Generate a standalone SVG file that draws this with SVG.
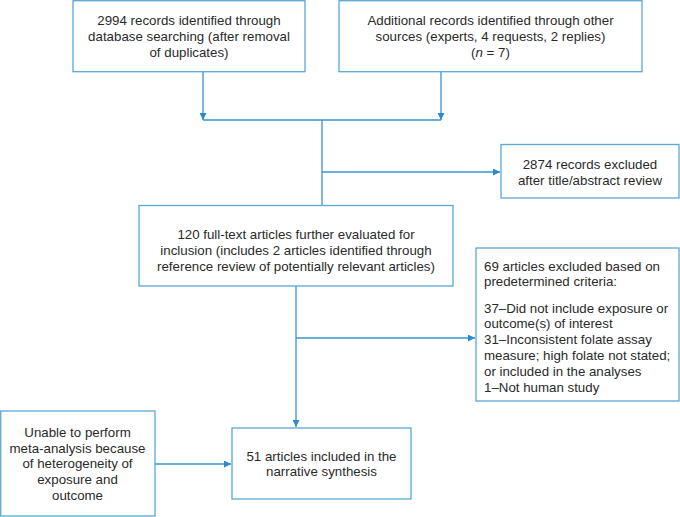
<svg xmlns="http://www.w3.org/2000/svg" width="680" height="517" viewBox="0 0 680 517">
<defs>
<style>
.box{fill:#fff;stroke:#5aa8d8;stroke-width:1.3}
.ln{fill:none;stroke:#3a93cf;stroke-width:1.3}
text{font-family:"Liberation Sans",Arial,sans-serif;font-size:13.3px;fill:#2a2a2a}
.c{text-anchor:middle}
</style>
<marker id="ah" viewBox="0 0 10 10" refX="10" refY="5" markerWidth="7" markerHeight="7" markerUnits="userSpaceOnUse" orient="auto">
<path d="M0,0 L10,5 L0,10 z" fill="#2a8acb"/>
</marker>
</defs>
<rect width="680" height="517" fill="#fff"/>
<g id="connectors">
<path class="ln" d="M203,72 V120" marker-end="url(#ah)"/>
<path class="ln" d="M441,72 V120" marker-end="url(#ah)"/>
<path class="ln" d="M203,120 H441"/>
<path class="ln" d="M322,120 V205"/>
<path class="ln" d="M322,172 H500" marker-end="url(#ah)"/>
<path class="ln" d="M296,286 V427" marker-end="url(#ah)"/>
<path class="ln" d="M296,338 H475" marker-end="url(#ah)"/>
<path class="ln" d="M155,464 H231" marker-end="url(#ah)"/>
</g>
<g id="n1">
<rect class="box" x="73" y="0.7" width="232" height="71"/>
<text class="c" x="189" y="25">2994 records identified through</text>
<text class="c" x="189" y="41">database searching (after removal</text>
<text class="c" x="189" y="57">of duplicates)</text>
</g>
<g id="n2">
<rect class="box" x="339" y="0.7" width="303" height="71"/>
<text class="c" x="490.5" y="25">Additional records identified through other</text>
<text class="c" x="490.5" y="41">sources (experts, 4 requests, 2 replies)</text>
<text class="c" x="490.5" y="57">(<tspan font-style="italic">n</tspan> = 7)</text>
</g>
<g id="n3">
<rect class="box" x="501" y="144.5" width="178" height="53.5"/>
<text class="c" x="590" y="168.5">2874 records excluded</text>
<text class="c" x="590" y="184.5">after title/abstract review</text>
</g>
<g id="n4">
<rect class="box" x="139" y="205.5" width="314" height="80.5"/>
<text class="c" x="296" y="238.5">120 full-text articles further evaluated for</text>
<text class="c" x="296" y="255">inclusion (includes 2 articles identified through</text>
<text class="c" x="296" y="271">reference review of potentially relevant articles)</text>
</g>
<g id="n5">
<rect class="box" x="476" y="248" width="203" height="153"/>
<text x="484" y="270.5">69 articles excluded based on</text>
<text x="484" y="286">predetermined criteria:</text>
<text x="484" y="312.5">37–Did not include exposure or</text>
<text x="484" y="327.5">outcome(s) of interest</text>
<text x="484" y="343.5">31–Inconsistent folate assay</text>
<text x="484" y="359.5">measure; high folate not stated;</text>
<text x="484" y="376">or included in the analyses</text>
<text x="484" y="392">1–Not human study</text>
</g>
<g id="n6">
<rect class="box" x="0.7" y="411" width="154.3" height="105"/>
<text class="c" x="77.5" y="436.5">Unable to perform</text>
<text class="c" x="77.5" y="452.5">meta-analysis because</text>
<text class="c" x="77.5" y="468">of heterogeneity of</text>
<text class="c" x="77.5" y="484">exposure and</text>
<text class="c" x="77.5" y="499.5">outcome</text>
</g>
<g id="n7">
<rect class="box" x="232" y="428" width="179" height="71"/>
<text class="c" x="321.5" y="460.5">51 articles included in the</text>
<text class="c" x="321.5" y="476">narrative synthesis</text>
</g>
</svg>
